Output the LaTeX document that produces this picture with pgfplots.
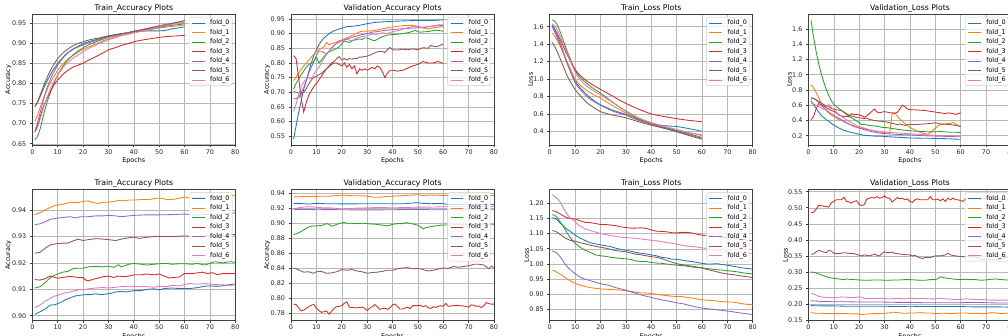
\documentclass[border=0pt]{standalone}
\usepackage{pgfplots}
\pgfplotsset{compat=1.18}
\usepackage{fontspec}
\setmainfont{DejaVu Sans}
\definecolor{c0}{HTML}{1F77B4}
\definecolor{c1}{HTML}{FF7F0E}
\definecolor{c2}{HTML}{2CA02C}
\definecolor{c3}{HTML}{D62728}
\definecolor{c4}{HTML}{9467BD}
\definecolor{c5}{HTML}{8C564B}
\definecolor{c6}{HTML}{E377C2}
\pgfplotscreateplotcyclelist{tab}{{c0},{c1},{c2},{c3},{c4},{c5},{c6}}
\pgfplotsset{
  myax/.style={
    scale only axis, width=203pt, height=131pt,
    anchor=north west,
    xmin=0, xmax=80, xtick={0,10,...,80},
    grid=major, grid style={color=black!28, line width=0.5pt},
    axis line style={black!75, line width=0.6pt},
    tick align=outside, tick pos=left, major tick length=2.5pt,
    every tick/.style={black!75, line width=0.6pt},
    tick label style={font=\fontsize{6.4}{7.5}\selectfont, text=black!85},
    xticklabel style={yshift=1.5pt},
    every axis title/.style={font=\fontsize{7.7}{9}\selectfont, at={(0.5,1)}, anchor=base, yshift=3.8pt, inner sep=0pt},
    xlabel=Epochs,
    every axis x label/.style={font=\fontsize{6.4}{7.5}\selectfont, at={(0.5,0)}, anchor=base, yshift=-18pt, inner sep=0pt},
    ylabel style={font=\fontsize{6.4}{7.5}\selectfont, inner sep=0pt},
    ylabel shift=-3pt,
    /pgf/number format/assume math mode=true,
    yticklabel style={/pgf/number format/.cd, fixed, fixed zerofill, precision=2},
    cycle list name=tab,
    every axis plot/.append style={line width=0.85pt, mark=none},
    legend cell align=left,
    legend image post style={xscale=0.75},
    legend style={at={(1,1)}, anchor=north east, xshift=-3pt, yshift=-3pt, draw=black!20, fill=white, fill opacity=0.8, text opacity=1, rounded corners=1.5pt, font=\fontsize{6.4}{7.5}\selectfont, inner xsep=2.6pt, inner ysep=2.6pt, row sep=3.2pt, nodes={inner sep=0pt, text height=4.9pt, text depth=1.4pt}, /tikz/every odd column/.append style={column sep=5pt}},
    legend entries={fold\_0,fold\_1,fold\_2,fold\_3,fold\_4,fold\_5,fold\_6},
  }
}
\begin{document}
\begin{tikzpicture}
\useasboundingbox (0pt,0pt) rectangle (1008pt,-336pt);
\clip (0pt,0pt) rectangle (1008pt,-336pt);
%%%%% 1 Train accuracy (top)
\begin{axis}[myax, at={(32.3pt,-14pt)}, title={Train\_Accuracy Plots}, ylabel=Accuracy,
  ymin=0.647, ymax=0.972, ytick={0.65,0.70,0.75,0.80,0.85,0.90,0.95}]
\addplot+[smooth] coordinates {(1,.743)(2,.752)(3,.766)(4,.781)(5,.795)(6,.808)(7,.82)(8,.831)(9,.84)(10,.849)(12,.864)(14,.876)(16,.885)(18,.892)(20,.898)(22,.903)(25,.908)(28,.913)(30,.917)(33,.921)(35,.923)(38,.926)(40,.928)(43,.929)(45,.93)(48,.93)(50,.93)(53,.932)(55,.935)(58,.938)(60,.94)};
\addplot+[smooth] coordinates {(1,.705)(2,.72)(3,.738)(4,.756)(5,.772)(6,.787)(7,.80)(8,.812)(9,.822)(10,.832)(12,.848)(14,.86)(16,.869)(18,.877)(20,.884)(22,.89)(25,.898)(28,.906)(30,.91)(33,.916)(35,.919)(38,.923)(40,.926)(43,.929)(45,.931)(48,.935)(50,.937)(53,.94)(55,.941)(58,.943)(60,.945)};
\addplot+[smooth] coordinates {(1,.660)(2,.668)(3,.685)(4,.71)(5,.735)(6,.757)(7,.775)(8,.792)(9,.807)(10,.82)(12,.842)(14,.858)(16,.87)(18,.88)(20,.888)(22,.895)(25,.903)(28,.91)(30,.914)(33,.919)(35,.922)(38,.926)(40,.929)(43,.932)(45,.934)(48,.937)(50,.939)(53,.942)(55,.944)(58,.946)(60,.948)};
\addplot+[smooth] coordinates {(1,.680)(2,.695)(3,.715)(4,.735)(5,.752)(6,.765)(7,.778)(8,.79)(9,.80)(10,.808)(12,.822)(14,.832)(16,.84)(18,.845)(20,.85)(22,.857)(25,.866)(28,.876)(30,.883)(33,.889)(35,.894)(38,.899)(40,.903)(43,.907)(45,.909)(48,.912)(50,.914)(53,.916)(55,.917)(58,.918)(60,.919)};
\addplot+[smooth] coordinates {(1,.683)(2,.70)(3,.725)(4,.75)(5,.772)(6,.792)(7,.808)(8,.822)(9,.834)(10,.845)(12,.862)(14,.875)(16,.884)(18,.89)(20,.895)(22,.90)(25,.906)(28,.912)(30,.915)(33,.919)(35,.922)(38,.926)(40,.929)(43,.933)(45,.936)(48,.94)(50,.943)(53,.947)(55,.949)(58,.953)(60,.955)};
\addplot+[smooth] coordinates {(1,.742)(2,.753)(3,.769)(4,.786)(5,.802)(6,.817)(7,.83)(8,.842)(9,.852)(10,.861)(12,.875)(14,.885)(16,.893)(18,.899)(20,.903)(22,.907)(25,.911)(28,.915)(30,.918)(33,.921)(35,.923)(38,.926)(40,.929)(43,.932)(45,.935)(48,.939)(50,.941)(53,.945)(55,.948)(58,.952)(60,.956)};
\addplot+[smooth] coordinates {(1,.678)(2,.69)(3,.71)(4,.73)(5,.75)(6,.768)(7,.784)(8,.798)(9,.81)(10,.82)(12,.838)(14,.852)(16,.862)(18,.87)(20,.878)(22,.886)(25,.895)(28,.903)(30,.908)(33,.914)(35,.918)(38,.922)(40,.925)(43,.929)(45,.932)(48,.937)(50,.94)(53,.944)(55,.946)(58,.95)(60,.952)};
\end{axis}
%%%%% 2 Validation accuracy (top)
\begin{axis}[myax, at={(291pt,-14pt)}, title={Validation\_Accuracy Plots}, ylabel=Accuracy,
  ymin=0.52, ymax=0.967, ytick={0.55,0.60,0.65,0.70,0.75,0.80,0.85,0.90,0.95}]
\addplot coordinates {(1,.54)(2,.585)(3,.63)(4,.67)(5,.71)(6,.74)(7,.77)(8,.80)(9,.825)(10,.845)(11,.862)(12,.875)(13,.885)(14,.893)(15,.90)(16,.905)(17,.91)(18,.913)(19,.916)(20,.918)(22,.924)(24,.925)(26,.927)(28,.93)(30,.934)(32,.937)(34,.939)(36,.94)(38,.941)(40,.942)(43,.943)(46,.944)(50,.945)(53,.945)(56,.945)(60,.947)};
\addplot coordinates {(1,.74)(2,.752)(3,.765)(4,.778)(5,.79)(6,.80)(7,.81)(8,.82)(9,.83)(10,.84)(11,.845)(12,.85)(13,.855)(14,.87)(15,.862)(16,.865)(17,.868)(18,.872)(19,.876)(20,.878)(21,.882)(22,.885)(23,.89)(24,.893)(25,.897)(26,.902)(27,.906)(28,.908)(30,.908)(32,.91)(34,.913)(36,.916)(38,.92)(40,.923)(42,.925)(44,.927)(46,.928)(48,.928)(50,.925)(52,.919)(54,.916)(56,.92)(58,.922)(60,.924)};
\addplot coordinates {(1,.71)(2,.73)(3,.745)(4,.76)(5,.772)(6,.785)(7,.795)(8,.80)(9,.805)(10,.82)(11,.80)(12,.81)(13,.822)(14,.83)(15,.838)(16,.842)(17,.845)(18,.85)(19,.855)(20,.865)(21,.875)(22,.872)(23,.87)(24,.875)(25,.878)(26,.88)(27,.882)(28,.88)(29,.885)(30,.885)(31,.882)(32,.878)(33,.876)(34,.88)(35,.886)(36,.89)(37,.892)(38,.895)(40,.897)(42,.898)(44,.90)(46,.903)(48,.908)(49,.912)(50,.906)(51,.905)(52,.906)(54,.907)(56,.91)(57,.912)(58,.911)(60,.908)};
\addplot coordinates {(1,.825)(2,.815)(3,.75)(4,.68)(5,.632)(6,.665)(7,.69)(8,.705)(9,.72)(10,.73)(11,.742)(12,.755)(13,.768)(14,.78)(15,.788)(16,.795)(17,.80)(18,.80)(19,.795)(20,.79)(21,.80)(22,.785)(23,.795)(24,.78)(25,.79)(26,.762)(27,.78)(28,.775)(29,.78)(30,.775)(31,.78)(32,.785)(33,.78)(34,.79)(35,.785)(36,.77)(37,.75)(38,.765)(39,.775)(40,.775)(42,.772)(44,.775)(46,.782)(48,.79)(50,.795)(52,.805)(54,.80)(56,.80)(58,.805)(60,.798)};
\addplot coordinates {(1,.703)(2,.70)(3,.697)(4,.70)(5,.715)(6,.74)(7,.765)(8,.785)(9,.805)(10,.825)(11,.84)(12,.84)(13,.835)(14,.832)(15,.84)(16,.852)(17,.86)(18,.868)(19,.873)(20,.877)(22,.882)(24,.887)(26,.892)(28,.897)(30,.90)(32,.905)(34,.907)(36,.91)(38,.912)(40,.914)(43,.916)(46,.918)(50,.92)(53,.923)(56,.926)(60,.928)};
\addplot coordinates {(1,.678)(2,.678)(3,.682)(4,.695)(5,.70)(6,.712)(7,.728)(8,.742)(9,.75)(10,.755)(11,.76)(12,.765)(13,.772)(14,.78)(15,.79)(16,.80)(17,.805)(18,.815)(19,.822)(20,.81)(21,.815)(22,.81)(23,.815)(24,.813)(25,.816)(26,.815)(27,.82)(28,.82)(29,.822)(30,.823)(32,.83)(34,.838)(36,.84)(37,.835)(38,.845)(39,.853)(40,.845)(42,.844)(44,.847)(46,.845)(48,.848)(50,.845)(52,.852)(54,.85)(55,.86)(56,.857)(57,.855)(58,.857)(60,.865)};
\addplot coordinates {(1,.635)(2,.66)(3,.69)(4,.72)(5,.735)(6,.745)(7,.75)(8,.745)(9,.76)(10,.775)(11,.785)(12,.80)(13,.815)(14,.828)(15,.84)(16,.85)(17,.86)(18,.866)(19,.87)(20,.875)(22,.88)(24,.876)(26,.885)(28,.89)(30,.893)(32,.898)(34,.898)(36,.903)(38,.90)(40,.907)(42,.91)(44,.915)(46,.92)(48,.924)(50,.925)(52,.92)(55,.925)(58,.93)(60,.93)};
\end{axis}
%%%%% 3 Train loss (top)
\begin{axis}[myax, at={(549.7pt,-14pt)}, title={Train\_Loss Plots}, ylabel=Loss,
  ymin=0.243, ymax=1.746, ytick={0.4,0.6,0.8,1.0,1.2,1.4,1.6},
  yticklabel style={/pgf/number format/precision=1}]
\addplot+[smooth] coordinates {(1,1.60)(2,1.54)(3,1.47)(5,1.33)(7,1.17)(10,0.98)(12,0.90)(15,0.81)(18,0.74)(20,0.705)(25,0.64)(30,0.595)(35,0.535)(40,0.49)(45,0.465)(50,0.455)(55,0.43)(60,0.40)};
\addplot+[smooth] coordinates {(1,1.53)(2,1.49)(3,1.44)(5,1.32)(7,1.19)(10,1.0)(12,0.93)(15,0.86)(18,0.81)(20,0.782)(25,0.69)(30,0.61)(35,0.54)(40,0.49)(45,0.45)(50,0.41)(55,0.38)(60,0.36)};
\addplot+[smooth] coordinates {(1,1.68)(2,1.66)(3,1.62)(4,1.55)(5,1.47)(6,1.39)(7,1.31)(8,1.24)(10,1.10)(12,1.02)(15,0.94)(18,0.875)(20,0.839)(25,0.73)(30,0.63)(35,0.545)(40,0.485)(45,0.445)(50,0.41)(55,0.37)(60,0.33)};
\addplot+[smooth] coordinates {(1,1.62)(3,1.52)(5,1.40)(7,1.27)(10,1.11)(12,1.04)(15,0.97)(18,0.915)(20,0.882)(25,0.80)(30,0.72)(35,0.655)(40,0.60)(45,0.57)(50,0.545)(55,0.525)(60,0.51)};
\addplot+[smooth] coordinates {(1,1.62)(2,1.57)(3,1.50)(5,1.35)(7,1.17)(10,0.96)(12,0.88)(15,0.79)(18,0.73)(20,0.70)(25,0.63)(30,0.585)(35,0.525)(40,0.48)(45,0.44)(50,0.40)(55,0.36)(60,0.32)};
\addplot+[smooth] coordinates {(1,1.42)(2,1.37)(3,1.31)(5,1.17)(7,1.03)(10,0.88)(12,0.81)(15,0.72)(18,0.66)(20,0.625)(25,0.585)(30,0.555)(35,0.51)(40,0.47)(45,0.435)(50,0.395)(55,0.35)(60,0.31)};
\addplot+[smooth] coordinates {(1,1.63)(2,1.61)(3,1.56)(4,1.50)(5,1.43)(7,1.29)(10,1.08)(12,0.99)(15,0.91)(18,0.85)(20,0.82)(25,0.725)(30,0.635)(35,0.555)(40,0.50)(45,0.46)(50,0.42)(55,0.385)(60,0.35)};
\end{axis}
%%%%% 4 Validation loss (top)
\begin{axis}[myax, at={(808.4pt,-14pt)}, title={Validation\_Loss Plots}, ylabel=Loss,
  ymin=0.078, ymax=1.797, ytick={0.2,0.4,0.6,0.8,1.0,1.2,1.4,1.6},
  yticklabel style={/pgf/number format/precision=1}]
\addplot coordinates {(1,.66)(2,.61)(3,.56)(4,.51)(5,.47)(6,.44)(7,.41)(8,.39)(9,.36)(10,.34)(11,.32)(12,.30)(13,.285)(14,.27)(15,.26)(16,.25)(18,.235)(20,.22)(22,.205)(24,.2)(26,.195)(28,.195)(30,.19)(32,.185)(35,.18)(38,.175)(40,.17)(45,.167)(50,.165)(55,.16)(60,.152)};
\addplot coordinates {(1,0.87)(2,0.83)(3,0.77)(4,0.70)(5,0.63)(6,0.57)(7,0.53)(8,0.50)(9,0.47)(10,0.45)(11,0.43)(12,0.41)(13,0.40)(14,0.385)(15,0.37)(16,0.355)(17,0.34)(18,0.33)(19,0.315)(20,0.305)(22,0.29)(24,0.275)(26,0.26)(28,0.25)(30,0.24)(32,0.232)(33,0.48)(34,0.50)(35,0.46)(36,0.42)(37,0.39)(38,0.36)(39,0.335)(40,0.31)(41,0.29)(42,0.275)(43,0.26)(44,0.245)(45,0.235)(46,0.225)(47,0.22)(48,0.24)(49,0.27)(50,0.30)(51,0.33)(52,0.345)(53,0.35)(54,0.355)(55,0.365)(56,0.36)(57,0.375)(58,0.35)(59,0.335)(60,0.315)};
\addplot coordinates {(1,1.72)(2,1.50)(3,1.31)(4,1.15)(5,1.02)(6,0.91)(7,0.81)(8,0.73)(9,0.66)(10,0.61)(11,0.585)(12,0.555)(13,0.53)(14,0.505)(15,0.48)(16,0.455)(17,0.435)(18,0.415)(19,0.395)(20,0.37)(21,0.345)(22,0.35)(23,0.34)(24,0.335)(25,0.33)(27,0.325)(29,0.31)(31,0.305)(33,0.295)(35,0.285)(37,0.275)(39,0.268)(41,0.262)(43,0.258)(45,0.255)(48,0.25)(50,0.25)(52,0.255)(54,0.25)(56,0.245)(58,0.245)(60,0.242)};
\addplot coordinates {(1,0.41)(2,0.45)(3,0.55)(4,0.62)(5,0.61)(6,0.59)(7,0.57)(8,0.55)(9,0.53)(10,0.52)(11,0.50)(12,0.47)(13,0.46)(14,0.45)(15,0.455)(16,0.45)(17,0.49)(18,0.475)(19,0.48)(20,0.47)(21,0.465)(22,0.44)(23,0.46)(24,0.49)(25,0.52)(26,0.55)(27,0.51)(28,0.50)(29,0.51)(30,0.515)(31,0.51)(32,0.50)(33,0.50)(34,0.495)(35,0.505)(36,0.55)(37,0.60)(38,0.58)(39,0.55)(40,0.54)(42,0.54)(44,0.535)(46,0.53)(48,0.52)(50,0.51)(52,0.50)(54,0.49)(55,0.50)(57,0.49)(58,0.48)(60,0.50)};
\addplot coordinates {(1,0.70)(2,0.69)(3,0.67)(4,0.64)(5,0.60)(6,0.57)(7,0.54)(8,0.51)(9,0.49)(10,0.47)(11,0.45)(12,0.43)(13,0.41)(14,0.39)(15,0.37)(16,0.35)(17,0.335)(18,0.32)(19,0.31)(20,0.30)(22,0.28)(24,0.26)(26,0.245)(28,0.235)(30,0.228)(33,0.222)(36,0.215)(40,0.21)(45,0.2)(50,0.195)(55,0.19)(60,0.185)};
\addplot coordinates {(1,0.68)(2,0.69)(3,0.67)(4,0.65)(5,0.63)(6,0.61)(7,0.59)(8,0.58)(9,0.56)(10,0.55)(11,0.54)(12,0.535)(13,0.53)(14,0.51)(15,0.49)(16,0.47)(17,0.46)(18,0.45)(19,0.44)(20,0.435)(21,0.43)(22,0.425)(23,0.43)(24,0.415)(26,0.40)(28,0.39)(30,0.385)(32,0.37)(34,0.355)(35,0.345)(36,0.355)(38,0.335)(40,0.35)(42,0.345)(44,0.35)(46,0.355)(48,0.36)(50,0.37)(52,0.355)(54,0.35)(56,0.345)(58,0.335)(60,0.325)};
\addplot coordinates {(1,0.62)(2,0.615)(3,0.60)(4,0.585)(5,0.565)(6,0.545)(7,0.565)(8,0.61)(9,0.575)(10,0.54)(11,0.51)(12,0.48)(13,0.455)(14,0.43)(15,0.41)(16,0.39)(17,0.37)(18,0.35)(19,0.335)(20,0.32)(22,0.30)(24,0.28)(26,0.265)(28,0.255)(30,0.25)(33,0.24)(36,0.235)(40,0.225)(45,0.215)(50,0.205)(55,0.20)(60,0.195)};
\end{axis}
%%%%% 5 Train accuracy (bottom)
\begin{axis}[myax, at={(32.3pt,-189.5pt)}, title={Train\_Accuracy Plots}, ylabel=Accuracy,
  ymin=0.8982, ymax=0.9478, ytick={0.90,0.91,0.92,0.93,0.94}]
\addplot coordinates {(1,.9005)(3,.9015)(5,.9025)(7,.904)(9,.9042)(11,.905)(13,.906)(15,.9068)(17,.9075)(19,.9078)(21,.908)(23,.908)(25,.9083)(27,.908)(29,.9082)(31,.9085)(33,.909)(35,.9092)(37,.909)(40,.9095)(43,.9095)(45,.91)(48,.9102)(50,.9098)(52,.9103)(55,.9105)(58,.9103)(60,.9103)(62,.9103)(64,.9105)(66,.9108)(68,.9112)(70,.9113)(72,.9112)(74,.9112)(76,.9115)(78,.9118)(80,.912)};
\addplot coordinates {(1,.9383)(3,.939)(5,.940)(7,.941)(9,.9418)(12,.9422)(15,.943)(18,.9428)(20,.9433)(22,.9435)(24,.9428)(26,.9425)(28,.943)(30,.943)(32,.9432)(34,.9437)(36,.9435)(38,.9438)(40,.9438)(43,.944)(46,.944)(49,.9445)(51,.9445)(53,.944)(55,.944)(58,.9445)(60,.945)(62,.9445)(65,.945)(68,.9448)(70,.945)(72,.9452)(75,.945)(78,.9455)(80,.9455)};
\addplot coordinates {(1,.9105)(3,.911)(5,.9125)(6,.9135)(8,.915)(10,.9158)(12,.9165)(14,.9168)(16,.9178)(18,.918)(20,.918)(22,.9185)(25,.9187)(28,.9185)(30,.9188)(32,.9183)(34,.9193)(35,.9185)(38,.9195)(40,.9198)(43,.9195)(45,.9192)(48,.9195)(50,.9197)(53,.9198)(55,.9195)(58,.9197)(60,.9197)(63,.9195)(65,.9198)(68,.9192)(70,.9198)(72,.9205)(75,.92)(78,.9205)(80,.9202)};
\addplot coordinates {(1,.9137)(3,.9135)(5,.914)(7,.915)(8,.9148)(10,.9142)(12,.9145)(14,.9148)(16,.9148)(18,.9145)(20,.9145)(21,.9135)(22,.9132)(24,.9138)(26,.9143)(28,.9148)(30,.915)(32,.9145)(34,.915)(36,.9148)(38,.915)(40,.9155)(43,.9155)(45,.9158)(48,.9155)(50,.9158)(52,.915)(54,.9143)(56,.9145)(58,.9147)(60,.916)(63,.916)(65,.9162)(67,.9165)(69,.916)(71,.9163)(73,.9155)(75,.916)(78,.916)(80,.916)};
\addplot coordinates {(1,.9345)(3,.9348)(5,.9355)(7,.9365)(9,.9368)(10,.937)(12,.9372)(15,.9375)(17,.937)(19,.9375)(22,.9375)(25,.9378)(28,.9378)(30,.938)(33,.9378)(35,.9375)(38,.9378)(40,.938)(45,.9382)(50,.9382)(55,.9383)(60,.9385)(65,.938)(70,.9385)(75,.9385)(78,.9388)(80,.939)};
\addplot coordinates {(1,.9237)(3,.924)(5,.9255)(7,.9268)(9,.9272)(12,.9275)(14,.9275)(16,.9283)(18,.929)(20,.9285)(22,.9288)(25,.9292)(28,.929)(30,.9288)(33,.9285)(35,.929)(38,.9295)(40,.9298)(42,.9293)(45,.9297)(48,.93)(50,.93)(55,.930)(60,.9302)(65,.930)(70,.9302)(75,.9305)(80,.9308)};
\addplot coordinates {(1,.903)(3,.904)(5,.9055)(7,.9065)(9,.9075)(11,.908)(13,.9087)(15,.909)(17,.9095)(19,.910)(20,.9098)(22,.9102)(25,.9105)(28,.9107)(30,.9105)(33,.9108)(35,.911)(38,.9112)(40,.911)(43,.9112)(45,.911)(48,.9108)(50,.9112)(53,.911)(55,.9115)(58,.9113)(60,.9118)(62,.9122)(64,.912)(66,.912)(68,.9122)(70,.912)(72,.9118)(75,.9117)(78,.9115)(80,.9117)};
\end{axis}
%%%%% 6 Validation accuracy (bottom)
\begin{axis}[myax, at={(291pt,-189.5pt)}, title={Validation\_Accuracy Plots}, ylabel=Accuracy,
  ymin=0.7707, ymax=0.9449, ytick={0.78,0.80,0.82,0.84,0.86,0.88,0.90,0.92,0.94}]
\addplot coordinates {(1,.926)(3,.9265)(5,.926)(7,.9255)(9,.9262)(11,.9265)(13,.926)(15,.926)(20,.9258)(25,.9258)(30,.926)(35,.926)(40,.926)(45,.926)(48,.927)(50,.9272)(52,.9265)(55,.926)(58,.9262)(60,.926)(62,.925)(65,.925)(70,.925)(80,.925)};
\addplot coordinates {(1,.935)(5,.9355)(10,.9358)(15,.936)(20,.9375)(22,.937)(25,.9365)(28,.9365)(30,.936)(33,.9345)(35,.9345)(37,.9355)(40,.936)(45,.937)(48,.9375)(50,.938)(52,.937)(55,.9375)(60,.937)(65,.9375)(70,.9365)(75,.937)(80,.937)};
\addplot coordinates {(1,.885)(2,.886)(3,.8875)(4,.889)(5,.8915)(6,.893)(7,.895)(8,.896)(9,.8965)(10,.8962)(11,.8968)(12,.897)(13,.898)(14,.8995)(15,.8985)(16,.896)(17,.897)(18,.8985)(19,.8995)(20,.9005)(21,.901)(22,.9)(24,.9)(26,.8995)(28,.9)(30,.8995)(32,.899)(34,.8985)(36,.8975)(38,.8965)(40,.8985)(42,.8995)(44,.8995)(45,.9005)(46,.9005)(48,.899)(50,.8975)(51,.8955)(52,.8925)(53,.894)(55,.8955)(57,.8965)(59,.8975)(61,.8978)(63,.8975)(65,.898)(70,.8978)(75,.898)(80,.898)};
\addplot coordinates {(1,.7925)(2,.792)(3,.7875)(4,.7835)(5,.7845)(6,.787)(7,.789)(8,.791)(9,.792)(10,.787)(11,.784)(12,.7815)(13,.7825)(14,.7835)(15,.779)(16,.783)(17,.787)(18,.789)(19,.7895)(20,.7905)(21,.7935)(22,.7955)(23,.7885)(24,.788)(26,.7875)(28,.7885)(29,.787)(30,.784)(31,.787)(32,.789)(33,.792)(34,.789)(35,.7855)(36,.7865)(37,.787)(38,.7855)(39,.7875)(40,.7915)(41,.7925)(42,.789)(43,.786)(44,.786)(45,.7875)(46,.7885)(47,.7865)(48,.7905)(49,.7905)(50,.7905)(51,.791)(52,.789)(53,.7905)(54,.788)(55,.7865)(56,.789)(57,.788)(58,.7895)(59,.7905)(60,.7895)(61,.7935)(62,.7895)(63,.79)(64,.7905)(66,.7905)(68,.79)(70,.7885)(71,.7915)(72,.791)(73,.7895)(74,.79)(75,.788)(76,.79)(77,.7945)(78,.793)(79,.7925)(80,.7925)};
\addplot coordinates {(1,.9185)(5,.9185)(10,.918)(15,.9182)(20,.918)(25,.9178)(30,.9178)(35,.9178)(40,.918)(45,.9182)(50,.9185)(55,.918)(60,.918)(65,.918)(70,.918)(75,.918)(80,.918)};
\addplot coordinates {(1,.8405)(2,.8395)(3,.838)(4,.8365)(5,.835)(7,.8355)(8,.8345)(9,.8335)(10,.8355)(12,.836)(14,.8335)(16,.834)(18,.8355)(20,.8385)(22,.8375)(24,.8385)(26,.8365)(28,.8355)(30,.8335)(32,.8345)(34,.835)(36,.836)(38,.8375)(40,.8375)(42,.8395)(44,.8405)(46,.841)(48,.8395)(50,.84)(52,.8385)(54,.8365)(56,.8375)(58,.839)(60,.8405)(62,.84)(64,.8425)(66,.8415)(68,.8425)(70,.8435)(72,.8455)(74,.8455)(76,.8445)(78,.8395)(79,.843)(80,.8405)};
\addplot coordinates {(1,.919)(3,.9205)(5,.9215)(7,.922)(9,.9215)(11,.921)(13,.9205)(15,.9205)(17,.92)(19,.9195)(20,.9185)(22,.9195)(25,.92)(30,.9205)(35,.921)(40,.9205)(45,.921)(50,.9215)(55,.9215)(60,.922)(65,.922)(70,.922)(75,.9225)(80,.922)};
\end{axis}
%%%%% 7 Train loss (bottom)
\begin{axis}[myax, at={(549.7pt,-189.5pt)}, title={Train\_Loss Plots}, ylabel=Loss,
  ymin=0.814, ymax=1.245, ytick={0.85,0.90,0.95,1.00,1.05,1.10,1.15,1.20}]
\addplot coordinates {(1,1.152)(2,1.15)(3,1.145)(4,1.135)(5,1.128)(6,1.12)(7,1.113)(8,1.108)(10,1.095)(12,1.085)(14,1.077)(16,1.07)(18,1.066)(20,1.063)(22,1.06)(24,1.057)(26,1.052)(28,1.048)(30,1.045)(32,1.042)(34,1.038)(36,1.035)(38,1.033)(40,1.03)(42,1.027)(44,1.022)(46,1.02)(48,1.016)(50,1.015)(52,1.013)(54,1.01)(56,1.008)(58,1.005)(60,1.002)(62,1.0)(64,1.0)(66,1.001)(68,0.998)(70,0.996)(72,0.993)(74,0.99)(76,0.987)(78,0.985)(80,0.983)};
\addplot coordinates {(1,0.98)(2,0.977)(3,0.972)(4,0.967)(5,0.962)(6,0.956)(7,0.95)(8,0.945)(9,0.94)(10,0.936)(12,0.93)(14,0.926)(16,0.922)(18,0.92)(20,0.918)(22,0.917)(24,0.916)(26,0.915)(28,0.914)(30,0.912)(32,0.91)(34,0.907)(36,0.905)(38,0.904)(40,0.903)(42,0.9)(44,0.898)(46,0.896)(48,0.894)(50,0.893)(52,0.893)(54,0.89)(56,0.888)(58,0.885)(60,0.882)(62,0.881)(64,0.88)(66,0.878)(68,0.876)(70,0.875)(72,0.875)(74,0.872)(76,0.869)(78,0.867)(80,0.867)};
\addplot coordinates {(1,1.162)(2,1.16)(3,1.152)(4,1.14)(5,1.128)(6,1.115)(7,1.1)(8,1.088)(9,1.077)(10,1.068)(12,1.055)(14,1.045)(16,1.038)(18,1.03)(20,1.027)(22,1.025)(24,1.022)(26,1.02)(28,1.018)(30,1.017)(32,1.015)(34,1.01)(36,1.008)(38,1.008)(40,1.005)(42,1.003)(44,1.002)(46,1.0)(48,0.998)(50,0.996)(52,0.995)(54,0.993)(56,0.99)(58,0.988)(60,0.987)(62,0.985)(64,0.983)(66,0.981)(68,0.98)(70,0.978)(72,0.976)(74,0.974)(76,0.971)(78,0.969)(80,0.967)};
\addplot coordinates {(1,1.175)(2,1.174)(3,1.17)(4,1.165)(5,1.16)(6,1.155)(7,1.152)(8,1.15)(10,1.148)(12,1.142)(14,1.137)(16,1.136)(18,1.133)(20,1.13)(22,1.13)(24,1.128)(26,1.126)(28,1.122)(30,1.12)(32,1.118)(34,1.118)(36,1.119)(38,1.117)(40,1.112)(42,1.108)(44,1.107)(46,1.106)(48,1.103)(50,1.102)(52,1.104)(54,1.104)(56,1.102)(58,1.098)(60,1.095)(62,1.092)(64,1.093)(66,1.09)(68,1.088)(70,1.086)(72,1.085)(74,1.082)(76,1.082)(78,1.078)(80,1.076)};
\addplot coordinates {(1,1.043)(2,1.04)(3,1.035)(4,1.025)(5,1.013)(6,1.0)(7,0.99)(8,0.982)(9,0.975)(10,0.968)(11,0.962)(12,0.956)(14,0.95)(16,0.945)(18,0.94)(20,0.935)(22,0.932)(24,0.928)(26,0.922)(28,0.918)(30,0.914)(32,0.908)(34,0.903)(36,0.898)(38,0.894)(40,0.89)(42,0.886)(44,0.882)(46,0.879)(48,0.876)(50,0.872)(52,0.87)(54,0.866)(56,0.862)(58,0.858)(60,0.855)(62,0.853)(64,0.851)(66,0.849)(68,0.847)(70,0.845)(72,0.843)(74,0.84)(76,0.838)(78,0.836)(80,0.833)};
\addplot coordinates {(1,1.11)(2,1.108)(3,1.104)(4,1.098)(5,1.092)(6,1.086)(7,1.082)(8,1.078)(10,1.075)(12,1.07)(14,1.066)(16,1.062)(18,1.058)(20,1.055)(22,1.052)(24,1.048)(26,1.044)(28,1.042)(30,1.04)(32,1.036)(34,1.032)(36,1.03)(38,1.027)(40,1.024)(42,1.022)(44,1.018)(46,1.012)(48,1.006)(50,1.001)(52,0.998)(54,0.995)(56,0.993)(58,0.99)(60,0.987)(62,0.982)(64,0.978)(66,0.974)(68,0.97)(70,0.967)(72,0.965)(74,0.963)(76,0.96)(78,0.958)(80,0.955)};
\addplot coordinates {(1,1.228)(2,1.222)(3,1.215)(4,1.205)(5,1.19)(6,1.175)(7,1.162)(8,1.152)(9,1.145)(10,1.14)(11,1.13)(12,1.125)(14,1.115)(16,1.11)(18,1.105)(20,1.10)(22,1.097)(25,1.092)(28,1.088)(30,1.087)(33,1.085)(35,1.083)(38,1.08)(40,1.078)(43,1.075)(45,1.072)(48,1.068)(50,1.065)(53,1.06)(55,1.058)(58,1.056)(60,1.053)(63,1.05)(65,1.046)(68,1.043)(70,1.04)(73,1.038)(75,1.037)(78,1.036)(80,1.035)};
\end{axis}
%%%%% 8 Validation loss (bottom)
\begin{axis}[myax, at={(808.4pt,-189.5pt)}, title={Validation\_Loss Plots}, ylabel=Loss,
  ymin=0.1485, ymax=0.557, ytick={0.15,0.20,0.25,0.30,0.35,0.40,0.45,0.50,0.55}]
\addplot coordinates {(1,0.195)(5,0.194)(10,0.194)(15,0.193)(20,0.193)(25,0.193)(30,0.193)(35,0.192)(40,0.193)(45,0.192)(50,0.192)(55,0.192)(60,0.192)(65,0.191)(70,0.191)(75,0.191)(80,0.19)};
\addplot coordinates {(1,0.173)(3,0.171)(5,0.171)(8,0.17)(10,0.17)(12,0.17)(15,0.17)(18,0.169)(20,0.169)(21,0.167)(22,0.168)(24,0.169)(26,0.17)(28,0.17)(30,0.171)(32,0.172)(33,0.174)(34,0.174)(36,0.172)(38,0.171)(40,0.172)(42,0.172)(44,0.173)(46,0.172)(48,0.172)(50,0.17)(52,0.171)(54,0.171)(56,0.17)(58,0.171)(60,0.172)(62,0.172)(64,0.17)(66,0.171)(68,0.17)(70,0.17)(72,0.173)(74,0.172)(76,0.17)(78,0.171)(80,0.171)};
\addplot coordinates {(1,0.30)(2,0.299)(3,0.297)(4,0.294)(5,0.291)(6,0.288)(7,0.285)(8,0.283)(9,0.281)(10,0.28)(12,0.278)(13,0.277)(14,0.276)(15,0.278)(16,0.277)(18,0.276)(20,0.275)(22,0.274)(24,0.274)(26,0.275)(28,0.275)(30,0.274)(32,0.274)(34,0.275)(36,0.275)(38,0.276)(40,0.276)(42,0.275)(44,0.274)(46,0.274)(48,0.276)(50,0.276)(51,0.279)(52,0.285)(53,0.283)(54,0.281)(56,0.279)(58,0.277)(60,0.276)(62,0.277)(64,0.276)(66,0.276)(68,0.274)(70,0.275)(72,0.277)(74,0.278)(76,0.276)(78,0.275)(80,0.275)};
\addplot coordinates {(1,0.484)(2,0.486)(3,0.495)(4,0.507)(5,0.507)(6,0.505)(7,0.504)(8,0.502)(9,0.515)(10,0.52)(11,0.525)(12,0.525)(13,0.525)(14,0.533)(15,0.52)(16,0.518)(17,0.515)(18,0.52)(19,0.522)(20,0.51)(21,0.507)(22,0.51)(23,0.527)(24,0.53)(25,0.532)(26,0.53)(27,0.535)(28,0.53)(29,0.532)(30,0.537)(31,0.53)(32,0.53)(33,0.518)(34,0.525)(35,0.532)(36,0.528)(37,0.53)(38,0.525)(39,0.528)(40,0.52)(41,0.517)(42,0.525)(43,0.528)(44,0.525)(45,0.525)(46,0.525)(47,0.525)(48,0.535)(49,0.525)(50,0.525)(51,0.527)(52,0.522)(53,0.528)(54,0.52)(55,0.53)(56,0.525)(57,0.53)(58,0.525)(59,0.525)(60,0.522)(61,0.52)(62,0.53)(64,0.527)(66,0.53)(68,0.527)(70,0.53)(72,0.525)(74,0.527)(76,0.525)(78,0.527)(80,0.53)};
\addplot coordinates {(1,0.21)(3,0.209)(5,0.208)(10,0.207)(15,0.207)(20,0.206)(25,0.206)(30,0.206)(35,0.205)(40,0.205)(45,0.204)(50,0.204)(55,0.204)(60,0.204)(65,0.205)(70,0.204)(75,0.203)(80,0.203)};
\addplot coordinates {(1,0.355)(2,0.356)(3,0.362)(4,0.367)(5,0.365)(6,0.362)(7,0.36)(8,0.367)(9,0.365)(10,0.358)(11,0.357)(12,0.357)(14,0.36)(16,0.358)(18,0.357)(20,0.352)(21,0.35)(22,0.353)(24,0.35)(26,0.355)(27,0.352)(28,0.35)(29,0.357)(30,0.363)(31,0.36)(32,0.36)(33,0.362)(34,0.358)(36,0.356)(38,0.354)(40,0.353)(41,0.35)(42,0.352)(43,0.347)(44,0.344)(45,0.342)(46,0.345)(48,0.345)(50,0.35)(52,0.35)(54,0.353)(55,0.358)(56,0.353)(58,0.35)(60,0.348)(62,0.347)(64,0.348)(66,0.345)(68,0.34)(70,0.338)(72,0.34)(74,0.337)(76,0.342)(78,0.345)(80,0.345)};
\addplot coordinates {(1,0.233)(2,0.231)(3,0.228)(4,0.224)(5,0.222)(6,0.221)(8,0.22)(10,0.22)(12,0.221)(14,0.222)(16,0.22)(18,0.22)(20,0.222)(21,0.222)(22,0.217)(24,0.217)(26,0.217)(28,0.217)(30,0.217)(32,0.216)(34,0.217)(36,0.217)(38,0.216)(40,0.218)(42,0.217)(44,0.217)(46,0.217)(48,0.216)(50,0.216)(52,0.218)(54,0.216)(56,0.215)(58,0.214)(60,0.214)(62,0.216)(64,0.215)(66,0.214)(68,0.214)(70,0.213)(72,0.212)(74,0.212)(76,0.212)(78,0.212)(80,0.212)};
\end{axis}
\end{tikzpicture}
\end{document}
